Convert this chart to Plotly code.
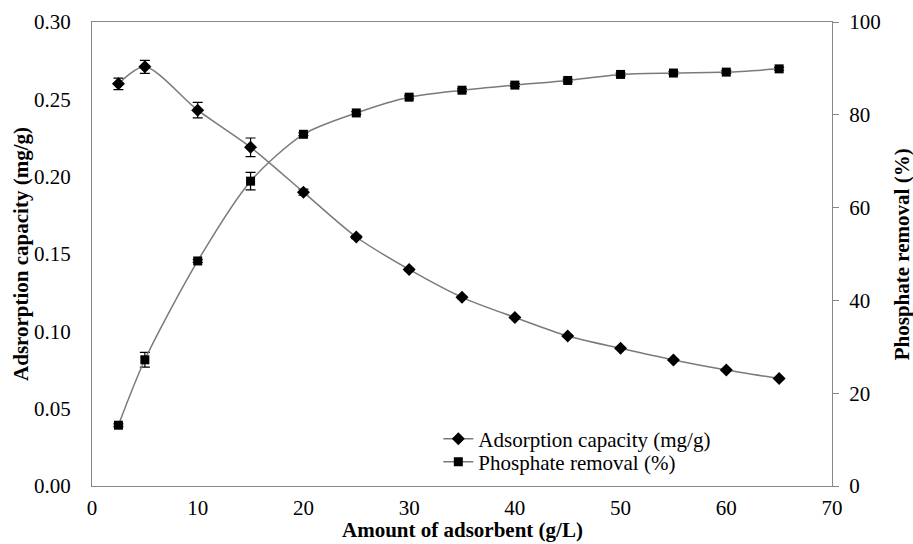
import plotly.graph_objects as go

# Adsorbent dose (g/L)
dose = [2.5, 5, 10, 15, 20, 25, 30, 35, 40, 45, 50, 55, 60, 65]

# Adsorption capacity (mg/g) and its standard deviation
capacity = [0.260, 0.271, 0.243, 0.219, 0.190, 0.161, 0.140, 0.122,
            0.109, 0.097, 0.089, 0.0815, 0.075, 0.0695]
capacity_err = [0.0037, 0.0042, 0.005, 0.006, 0.002, 0.001, 0.0008, 0.0008,
                0.0006, 0.0006, 0.0005, 0.0005, 0.0005, 0.0005]

# Phosphate removal (%) and its standard deviation
removal = [13.1, 27.2, 48.5, 65.7, 75.8, 80.4, 83.8, 85.3,
           86.4, 87.4, 88.7, 89.0, 89.2, 89.9]
removal_err = [0.3, 1.6, 0.3, 1.9, 0.3, 0.3, 0.3, 0.3,
               0.3, 0.3, 0.3, 0.3, 0.3, 0.3]

x_ticks = [0, 10, 20, 30, 40, 50, 60, 70]
left_ticks = [0.00, 0.05, 0.10, 0.15, 0.20, 0.25, 0.30]
right_ticks = [0, 20, 40, 60, 80, 100]

FONT = "Liberation Serif"
FS = 21
AXIS_GREY = "#878787"
LINE_GREY = "#7a7a7a"

fig = go.Figure()

fig.add_trace(go.Scatter(
    x=dose, y=capacity, name="Adsorption capacity (mg/g)",
    mode="lines+markers", legend="legend",
    line=dict(color=LINE_GREY, width=1.5, shape="spline", smoothing=0.8),
    marker=dict(symbol="diamond", size=10, color="black"),
    error_y=dict(type="data", array=capacity_err, color="black",
                 thickness=1.2, width=5),
    yaxis="y",
))

fig.add_trace(go.Scatter(
    x=dose, y=removal, name="Phosphate removal (%)",
    mode="lines+markers", legend="legend2",
    line=dict(color=LINE_GREY, width=1.5, shape="spline", smoothing=0.8),
    marker=dict(symbol="square", size=9, color="black"),
    error_y=dict(type="data", array=removal_err, color="black",
                 thickness=1.2, width=5),
    yaxis="y2",
))

legend_style = dict(xanchor="left", yanchor="middle",
                    bgcolor="rgba(0,0,0,0)", borderwidth=0,
                    font=dict(family=FONT, size=FS, color="black"),
                    itemwidth=30)

fig.update_layout(
    width=913, height=544,
    margin=dict(l=92, r=81, t=22, b=58),
    paper_bgcolor="white", plot_bgcolor="white",
    font=dict(family=FONT, size=FS, color="black"),
    showlegend=True,
    legend=dict(x=0.468, y=0.1013, **legend_style),
    legend2=dict(x=0.468, y=0.0517, **legend_style),
    xaxis=dict(
        range=[0, 70], tickvals=x_ticks, ticktext=[str(v) for v in x_ticks],
        showgrid=False, zeroline=False, automargin=False,
        showline=True, linecolor=AXIS_GREY, linewidth=1, mirror=True,
        ticks="", ticklabelstandoff=3,
        tickfont=dict(family=FONT, size=FS),
    ),
    yaxis=dict(
        range=[0, 0.30], tickvals=left_ticks,
        ticktext=[f"{v:.2f}" for v in left_ticks],
        showgrid=False, zeroline=False, automargin=False,
        showline=True, linecolor=AXIS_GREY, linewidth=1, mirror=True,
        ticks="", ticklabelstandoff=16,
        tickfont=dict(family=FONT, size=FS),
    ),
    yaxis2=dict(
        range=[0, 100], tickvals=right_ticks,
        ticktext=[str(v) for v in right_ticks],
        overlaying="y", side="right", automargin=False,
        showgrid=False, zeroline=False,
        showline=True, linecolor=AXIS_GREY, linewidth=1,
        ticks="outside", ticklen=6, tickcolor=AXIS_GREY,
        ticklabelstandoff=6,
        tickfont=dict(family=FONT, size=FS),
    ),
)

# Axis titles
title_font = dict(family=FONT, size=FS, color="black")
fig.add_annotation(text="<b>Amount of adsorbent (g/L)</b>", xref="paper",
                   yref="paper", x=0.5, y=-0.095, xanchor="center",
                   yanchor="middle", showarrow=False, font=title_font)
fig.add_annotation(text="<b>Adsrorption capacity (mg/g)</b>", xref="paper",
                   yref="paper", x=-0.096, y=0.5, xanchor="center",
                   yanchor="middle", textangle=-90, showarrow=False,
                   font=title_font)
fig.add_annotation(text="<b>Phosphate removal (%)</b>", xref="paper",
                   yref="paper", x=1.095, y=0.5, xanchor="center",
                   yanchor="middle", textangle=-90, showarrow=False,
                   font=title_font)

fig.write_html("out.html")
